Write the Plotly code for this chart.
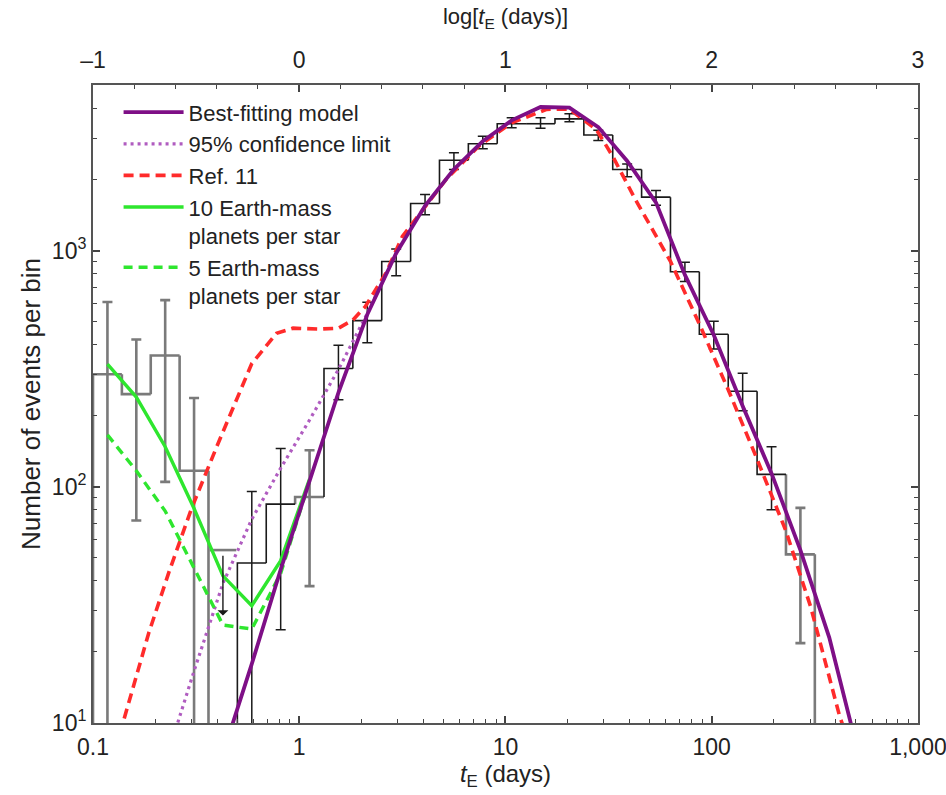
import math
import plotly.graph_objects as go

# ---------------- data ----------------
# histogram bin edges, log10(tE / days)
LOG_EDGES = [-1.00, -0.86, -0.72, -0.58, -0.44, -0.30, -0.16, -0.02, 0.12, 0.26,
             0.40, 0.54, 0.68, 0.82, 0.96, 1.10, 1.24, 1.38, 1.52, 1.66,
             1.80, 1.94, 2.08, 2.22, 2.36, 2.50]
# number of events per bin (0 = empty bin)
COUNTS = [300, 247, 360, 117, 0, 47.6, 84.5, 90.6, 317, 506,
          901, 1585, 2417, 2840, 3451, 3451, 3620, 3093, 2208, 1687,
          815, 443, 254, 113, 51.8]
ERR_HI = [607, 421, 618, 238, None, 95.5, 145.5, 143, 398, 605,
          1017, 1730, 2600, 3055, 3655, 3655, 3800, 3240, 2330, 1800,
          895, 503, 303, 148, 81.5]
ERR_LO = [0, 72, 105, 0, None, 0, 24.8, 38, 234, 408,
          783, 1422, 2208, 2704, 3319, 3300, 3515, 2931, 2060, 1560,
          741, 384, 210, 80, 21.8]
GRAY_BINS = [0, 1, 2, 3, 4, 7, 24]
UPPER_LIMIT_BIN = 4
UPPER_LIMIT_TOP = 54
UPPER_LIMIT_TIP = 28.5

# best-fitting model, evaluated at bin centres
MODEL_LOGT = [-0.37, -0.23, -0.09, 0.05, 0.19, 0.33, 0.47, 0.61, 0.75, 0.89,
              1.03, 1.17, 1.31, 1.45, 1.59, 1.73, 1.87, 2.01, 2.15, 2.29,
              2.43, 2.57, 2.71]
MODEL_N = [7.4, 17.8, 44.7, 105, 251, 537, 977, 1549, 2213, 2911,
           3565, 4062, 4036, 3340, 2400, 1600, 790, 440, 220, 114,
           54, 23, 7.5]

# 95% confidence limit
CONF_LOGT = [-0.65, -0.51, -0.37, -0.23, -0.09, 0.05, 0.19, 0.33, 0.47]
CONF_N = [6.8, 16.6, 39, 73, 120, 192, 314, 543, 977]

# Ref. 11
REF11_LOGT = [-0.87, -0.73, -0.63, -0.52, -0.40, -0.31, -0.23, -0.11, -0.03, 0.10,
              0.19, 0.26, 0.32, 0.42, 0.50, 0.60, 0.71, 0.87, 1.03, 1.20,
              1.31, 1.44, 1.52, 1.63, 1.80, 1.94, 2.08, 2.22, 2.36, 2.48,
              2.62, 2.66]
REF11_N = [9, 24, 44, 82, 148, 225, 333, 447, 470, 466,
           470, 509, 580, 803, 1150, 1493, 1995, 2773, 3483, 3970,
           3981, 3266, 2512, 1648, 902, 490, 258, 131, 65, 31,
           10.7, 8.5]

# planet curves at bin centres
PLANET_LOGT = [-0.93, -0.79, -0.65, -0.51, -0.37, -0.23, -0.09, 0.05]
PLANET10_N = [331, 240, 148, 81, 42, 31.4, 48.7, 108]
PLANET5_N = [166, 117, 79, 45.6, 26, 25, 43, 106]

X_TICKS = [0.1, 1, 10, 100, 1000]
X_TICKTEXT = ["0.1", "1", "10", "100", "1,000"]
TOP_TICKS = [-1, 0, 1, 2, 3]
TOP_TICKTEXT = ["\u20131", "0", "1", "2", "3"]
Y_TICKS = [10, 100, 1000]
Y_TICKTEXT = ["10<sup>1</sup>", "10<sup>2</sup>", "10<sup>3</sup>"]

# ---------------- styling ----------------
FONT = "Liberation Sans, Arial, Helvetica, sans-serif"
TXT = "#222222"
GRAY = "#7a7a7a"
BLACK = "#1a1a1a"
PURPLE = "#7e0f86"
PURPLE_LIGHT = "#b05cc0"
RED = "#ff2b2b"
GREEN = "#2ee62e"
FLOOR = 1.0  # below axis range; stands in for zero on the log axis


def t(v):
    return 10 ** v


def disp(v):
    return v if (v is not None and v > 0) else FLOOR


fig = go.Figure()

# ---------------- histogram ----------------
seg = {"g": ([], []), "k": ([], [])}
prev = FLOOR
for i, c in enumerate(COUNTS):
    left, right = t(LOG_EDGES[i]), t(LOG_EDGES[i + 1])
    v = disp(c)
    xs, ys = seg["g"] if i in GRAY_BINS else seg["k"]
    xs += [left, left, right, None]
    ys += [prev, v, v, None]
    prev = v
xs += [t(LOG_EDGES[-1]), t(LOG_EDGES[-1]), None]
ys += [prev, FLOOR, None]

for key, col, w in (("g", GRAY, 2.6), ("k", BLACK, 1.6)):
    fig.add_trace(go.Scatter(x=seg[key][0], y=seg[key][1], mode="lines",
                             line=dict(color=col, width=w), showlegend=False,
                             hoverinfo="skip"))

# ---------------- error bars ----------------
for gray in (True, False):
    xs, ys, up, dn = [], [], [], []
    for i, c in enumerate(COUNTS):
        if i == UPPER_LIMIT_BIN or ERR_HI[i] is None:
            continue
        if (i in GRAY_BINS) != gray:
            continue
        ctr = t((LOG_EDGES[i] + LOG_EDGES[i + 1]) / 2)
        xs.append(ctr)
        ys.append(c)
        up.append(ERR_HI[i] - c)
        dn.append(c - disp(ERR_LO[i]))
    fig.add_trace(go.Scatter(
        x=xs, y=ys, mode="markers",
        marker=dict(size=1, color="rgba(0,0,0,0)"),
        error_y=dict(type="data", symmetric=False, array=up, arrayminus=dn,
                     color=GRAY if gray else BLACK,
                     thickness=2.6 if gray else 1.5, width=5),
        showlegend=False, hoverinfo="skip"))

# upper-limit bar
ul_c = (LOG_EDGES[UPPER_LIMIT_BIN] + LOG_EDGES[UPPER_LIMIT_BIN + 1]) / 2
fig.add_trace(go.Scatter(
    x=[t(ul_c)], y=[UPPER_LIMIT_TOP], mode="markers",
    marker=dict(symbol="line-ew", size=19, line=dict(color=GRAY, width=2.6)),
    showlegend=False, hoverinfo="skip"))
fig.add_annotation(x=ul_c, y=math.log10(UPPER_LIMIT_TIP), ax=ul_c,
                   ay=math.log10(UPPER_LIMIT_TOP * 0.96), xref="x", yref="y",
                   axref="x", ayref="y", text="", showarrow=True,
                   arrowhead=1, arrowsize=1.3, arrowwidth=1.4,
                   arrowcolor=BLACK)

# ---------------- curves ----------------
fig.add_trace(go.Scatter(x=[t(v) for v in REF11_LOGT], y=REF11_N, mode="lines",
                         name="Ref. 11", legendrank=3,
                         line=dict(color=RED, width=3.6, dash="10px,6px")))
fig.add_trace(go.Scatter(x=[t(v) for v in CONF_LOGT], y=CONF_N, mode="lines",
                         name="95% confidence limit", legendrank=2,
                         line=dict(color=PURPLE_LIGHT, width=3.2, dash="3px,4px")))
fig.add_trace(go.Scatter(x=[t(v) for v in PLANET_LOGT], y=PLANET5_N, mode="lines",
                         name="5 Earth-mass<br>planets per star", legendrank=5,
                         line=dict(color=GREEN, width=3.4, dash="9px,6px")))
fig.add_trace(go.Scatter(x=[t(v) for v in PLANET_LOGT], y=PLANET10_N, mode="lines",
                         name="10 Earth-mass<br>planets per star", legendrank=4,
                         line=dict(color=GREEN, width=3.4)))
fig.add_trace(go.Scatter(x=[t(v) for v in MODEL_LOGT], y=MODEL_N, mode="lines",
                         name="Best-fitting model", legendrank=1,
                         line=dict(color=PURPLE, width=3.8)))

# dummy trace for the top axis
fig.add_trace(go.Scatter(x=[-1, 3], y=[None, None], xaxis="x2", mode="lines",
                         showlegend=False, hoverinfo="skip"))

axis_common = dict(showline=True, linecolor="#555555", linewidth=2,
                   ticks="inside", ticklen=7, tickwidth=1.5, tickcolor="#444444",
                   showgrid=False, zeroline=False, automargin=False,
                   ticklabeloverflow="allow",
                   tickfont=dict(family=FONT, size=23, color=TXT))

minor_x = [m * 10 ** k for k in range(-1, 3) for m in range(2, 10)]
minor_y = [m * 10 ** k for k in range(1, 4) for m in range(2, 10)]

fig.update_layout(
    width=946, height=795,
    margin=dict(l=93, r=28, t=85, b=72, autoexpand=False),
    paper_bgcolor="white", plot_bgcolor="white",
    font=dict(family=FONT, color=TXT),
    xaxis=dict(type="log", range=[-1, 3.0002], tickvals=X_TICKS, ticktext=X_TICKTEXT,
               minor=dict(ticks="inside", ticklen=4, tickwidth=1.3,
                          tickcolor="#444444", tickvals=minor_x),
               ticklabelstandoff=2,
               title=dict(text="<i>t</i><sub>E</sub> (days)",
                          font=dict(family=FONT, size=24, color=TXT), standoff=6),
               **axis_common),
    xaxis2=dict(overlaying="x", side="top", range=[-1, 3.0002], tickvals=TOP_TICKS,
                ticktext=TOP_TICKTEXT, ticklabelstandoff=6,
                minor=dict(ticks="inside", ticklen=4, tickwidth=1.3,
                           tickcolor="#444444", dtick=0.2, tick0=0),
                title=dict(text="log[<i>t</i><sub>E</sub> (days)]",
                           font=dict(family=FONT, size=22, color=TXT), standoff=16),
                **axis_common),
    yaxis=dict(type="log", range=[1, 3.702], tickvals=Y_TICKS, ticktext=Y_TICKTEXT,
               mirror="ticks",
               minor=dict(ticks="inside", ticklen=4, tickwidth=1.3,
                          tickcolor="#444444", tickvals=minor_y),
               title=dict(text="Number of events per bin",
                          font=dict(family=FONT, size=26, color=TXT), standoff=4),
               **axis_common),
    legend=dict(x=0.031, y=0.99, xanchor="left", yanchor="top",
                bgcolor="rgba(0,0,0,0)", valign="top", tracegroupgap=0,
                font=dict(family=FONT, size=22, color=TXT), itemwidth=60),
    showlegend=True,
)

fig.write_html("out.html",
               config={"displayModeBar": False},
               post_script="document.body.style.margin='0px';"
                           "document.body.style.overflow='hidden';")
